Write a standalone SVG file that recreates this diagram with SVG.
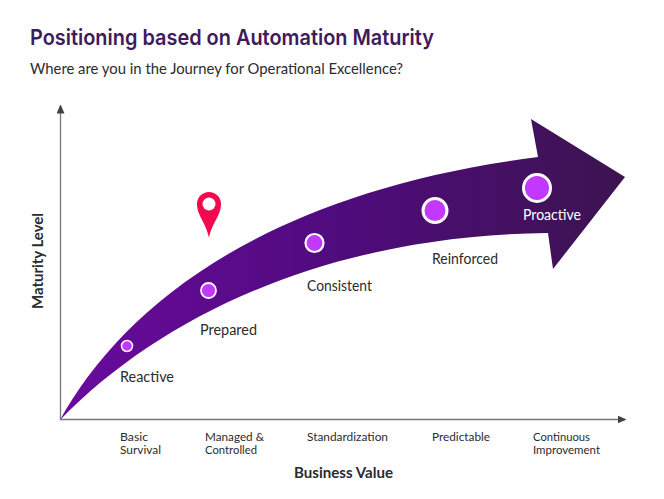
<svg xmlns="http://www.w3.org/2000/svg" width="664" height="499" viewBox="0 0 664 499">
<style>
.t{font-family:"Lato","Noto Sans",sans-serif;fill:#2b2b30}
.s{font-size:11.500px}
.m{font-size:14.500px}
.b{font-weight:700;font-size:14.500px}
.dot{fill:#c238ff;stroke:#fff}
.ax{stroke:#77777b;stroke-width:1.3;fill:none}
</style>
<defs>
<linearGradient id="g" gradientUnits="userSpaceOnUse" x1="60" y1="0" x2="625" y2="0">
<stop offset="0" stop-color="#6a0a9e"/><stop offset="0.5" stop-color="#4f0b7c"/><stop offset="1" stop-color="#3c1450"/>
</linearGradient>
<marker id="a" markerWidth="9" markerHeight="8" refX="7.500" refY="4" orient="auto" markerUnits="userSpaceOnUse"><path d="M0,0L9,4L0,8z" fill="#3d4148"/></marker>
</defs>
<text x="30" y="45" style="font-family:'Inter','Roboto',sans-serif;font-weight:600;font-size:22px;fill:#3f1a5c" textLength="404" lengthAdjust="spacingAndGlyphs">Positioning based on Automation Maturity</text>
<text class="t" x="30" y="74" style="font-size:15px" textLength="373" lengthAdjust="spacingAndGlyphs">Where are you in the Journey for Operational Excellence?</text>
<g id="connectors">
<path class="ax" d="M60.500,420V106" marker-end="url(#a)"/>
<path class="ax" d="M60,419.500H625" marker-end="url(#a)"/>
</g>
<g id="arrow"><path fill="url(#g)" d="M60,420C122,308 262,192 538,157L531,119L625,177L553,269L548,233C335,235 165,312 60,420Z"/></g>
<g id="pin"><path fill="#f4094f" d="M209,238C206,222 197,216 197,204A12,12 0 0 1 221,204C221,216 212,222 209,238Z"/><circle cx="209" cy="204" r="6.500" fill="#fff"/></g>
<g id="reactive"><circle class="dot" cx="127" cy="346" r="5.500" stroke-width="1.500"/><text class="t m" x="120" y="381.500" textLength="54" lengthAdjust="spacingAndGlyphs">Reactive</text></g>
<g id="prepared"><circle class="dot" cx="208.500" cy="290.500" r="7.500" stroke-width="1.800"/><text class="t m" x="200" y="334.500" textLength="57" lengthAdjust="spacingAndGlyphs">Prepared</text></g>
<g id="consistent"><circle class="dot" cx="314.500" cy="243" r="9" stroke-width="2.200"/><text class="t m" x="307" y="290.500" textLength="65" lengthAdjust="spacingAndGlyphs">Consistent</text></g>
<g id="reinforced"><circle class="dot" cx="435" cy="210.500" r="12" stroke-width="3"/><text class="t m" x="432" y="263.500" textLength="66" lengthAdjust="spacingAndGlyphs">Reinforced</text></g>
<g id="proactive"><circle class="dot" cx="537" cy="188" r="13.500" stroke-width="3"/><text class="m" x="523" y="219.500" style="font-family:'Lato',sans-serif;fill:#fff" textLength="58" lengthAdjust="spacingAndGlyphs">Proactive</text></g>
<g id="x-labels">
<text class="t s" x="120" y="441" textLength="28" lengthAdjust="spacingAndGlyphs">Basic</text><text class="t s" x="120" y="454" textLength="41" lengthAdjust="spacingAndGlyphs">Survival</text>
<text class="t s" x="205" y="441" textLength="59" lengthAdjust="spacingAndGlyphs">Managed &amp;</text><text class="t s" x="205" y="454" textLength="52" lengthAdjust="spacingAndGlyphs">Controlled</text>
<text class="t s" x="307" y="441" textLength="81" lengthAdjust="spacingAndGlyphs">Standardization</text>
<text class="t s" x="432" y="441" textLength="58" lengthAdjust="spacingAndGlyphs">Predictable</text>
<text class="t s" x="533" y="441" textLength="57" lengthAdjust="spacingAndGlyphs">Continuous</text><text class="t s" x="533" y="454" textLength="67" lengthAdjust="spacingAndGlyphs">Improvement</text>
</g>
<text class="t b" x="294" y="478" textLength="99" lengthAdjust="spacingAndGlyphs">Business Value</text>
<text class="t b" transform="translate(43,309) rotate(-90)" textLength="96" lengthAdjust="spacingAndGlyphs">Maturity Level</text>
</svg>
